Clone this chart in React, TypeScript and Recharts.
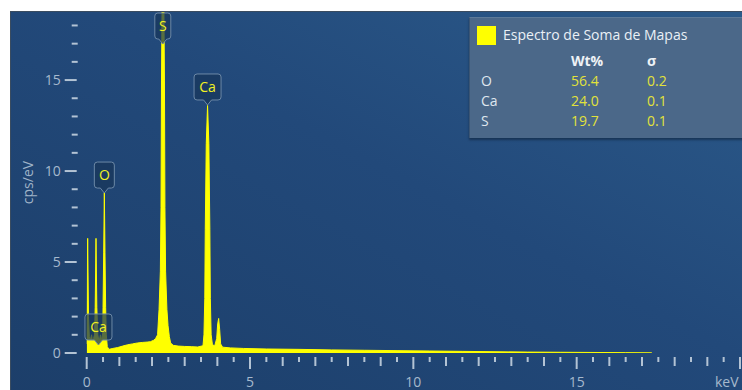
import { Area, ComposedChart, Legend, ReferenceDot, XAxis, YAxis } from "recharts";

// EDS spectrum
const energyKeV = [
  0.0, 0.005, 0.03, 0.055, 0.08, 0.11, 0.15, 0.18, 0.21, 0.24,
  0.26, 0.285, 0.31, 0.34, 0.38, 0.42, 0.46, 0.49, 0.5, 0.52,
  0.54, 0.56, 0.58, 0.6, 0.63, 0.68, 0.8, 0.95, 1.1, 1.25,
  1.4, 1.55, 1.7, 1.85, 1.95, 2.05, 2.11, 2.17, 2.215, 2.255,
  2.275, 2.29, 2.335, 2.38, 2.395, 2.415, 2.455, 2.49, 2.53, 2.57,
  2.65, 2.8, 3.0, 3.2, 3.4, 3.56, 3.59, 3.615, 3.63, 3.66,
  3.7, 3.74, 3.77, 3.785, 3.81, 3.85, 3.92, 3.98, 4.01, 4.04,
  4.07, 4.1, 4.16, 4.4, 4.8, 5.5, 6.5, 7.5, 8.5, 9.5,
  10.5, 11.5, 12.5, 13.5, 14.5, 15.5, 16.5, 17.3,
];
const countsCpsEv = [
  0.5, 2.0, 6.3, 2.0, 0.9, 0.7, 1.0, 0.6, 0.8, 1.0,
  2.5, 6.3, 2.5, 1.0, 0.6, 1.0, 0.7, 1.1, 2.5, 5.5,
  8.8, 5.5, 2.5, 1.0, 0.35, 0.2, 0.25, 0.3, 0.38, 0.45,
  0.5, 0.55, 0.58, 0.6, 0.62, 0.7, 0.8, 1.0, 2.4, 4.5,
  8.0, 15.0, 26.0, 15.0, 8.0, 4.5, 2.4, 1.5, 0.9, 0.55,
  0.42, 0.38, 0.36, 0.35, 0.33, 0.4, 1.0, 3.0, 6.8, 11.5,
  13.6, 11.5, 6.8, 3.0, 1.0, 0.45, 0.4, 0.8, 1.6, 1.9,
  1.3, 0.5, 0.32, 0.28, 0.25, 0.22, 0.2, 0.17, 0.15, 0.13,
  0.11, 0.09, 0.07, 0.05, 0.04, 0.03, 0.02, 0.01,
];

const xTicks = [
  0, 0.5, 1, 1.5, 2, 2.5, 3, 3.5, 4, 4.5, 5, 5.5, 6, 6.5, 7, 7.5, 8, 8.5, 9, 9.5, 10,
  10.5, 11, 11.5, 12, 12.5, 13, 13.5, 14, 14.5, 15, 15.5, 16, 16.5, 17, 17.5, 18, 18.5, 19, 19.5, 20,
];
const yTicks = [0, 1, 2, 3, 4, 5, 6, 7, 8, 9, 10, 11, 12, 13, 14, 15, 16, 17, 18];
const majorLabels = [0, 5, 10, 15];

const peakNames = ["Ca", "O", "S", "Ca"];
const peakEnergies = [0.36, 0.54, 2.33, 3.7];
const peakTips = [0.44, 8.79, 16.98, 13.63];

const elements = ["O", "Ca", "S"];
const wtPercent = ["56.4", "24.0", "19.7"];
const sigma = ["0.2", "0.1", "0.1"];

const data = energyKeV.map((keV, i) => ({ keV, cps: countsCpsEv[i] }));

const FONT = "'Open Sans', 'Noto Sans', sans-serif";
const AXIS_TEXT = "#a6b9cd";
const TICK = "#b3c3d4";
const YELLOW = "#ffff00";

function XTick(props: any) {
  const { x, y, payload } = props;
  const v = payload.value;
  const major = v % 5 === 0;
  const len = major ? 12 : v % 1 === 0 ? 9 : 5;
  return (
    <g>
      <line x1={x} x2={x} y1={y + 4} y2={y + 4 + len} stroke={TICK} strokeWidth={2} />
      {majorLabels.includes(v) && (
        <text x={x} y={y + 34} textAnchor="middle" fill={AXIS_TEXT} fontSize={14} fontFamily={FONT}>
          {v}
        </text>
      )}
      {v === 20 && (
        <text x={x - 25} y={y + 34} fill={AXIS_TEXT} fontSize={14} fontFamily={FONT}>
          keV
        </text>
      )}
    </g>
  );
}

function YTick(props: any) {
  const { x, y, payload } = props;
  const v = payload.value;
  const major = majorLabels.includes(v);
  return (
    <g>
      {major ? (
        <line x1={x - 22} x2={x - 10} y1={y} y2={y} stroke={TICK} strokeWidth={2} />
      ) : (
        <line x1={x - 15} x2={x - 9} y1={y} y2={y} stroke={TICK} strokeWidth={2} />
      )}
      {major && (
        <text x={x - 26} y={y + 5} textAnchor="end" fill={AXIS_TEXT} fontSize={14} fontFamily={FONT}>
          {v}
        </text>
      )}
    </g>
  );
}

function PeakTag(props: any) {
  const { cx, cy, name } = props;
  const w = name.length > 1 ? 27 : name === "S" ? 16 : 20;
  const x0 = cx - w / 2;
  const x1 = cx + w / 2;
  const y1 = cy - 5;
  const y0 = y1 - 26;
  const r = 3;
  const d = `M${x0 + r},${y0} H${x1 - r} Q${x1},${y0} ${x1},${y0 + r} V${y1 - r} Q${x1},${y1} ${x1 - r},${y1} H${cx + 4} L${cx},${cy} L${cx - 4},${y1} H${x0 + r} Q${x0},${y1} ${x0},${y1 - r} V${y0 + r} Q${x0},${y0} ${x0 + r},${y0} Z`;
  return (
    <g>
      <path d={d} fill="rgba(24,54,90,0.72)" stroke="#6c88a6" strokeWidth={1} />
      <text x={cx} y={y0 + 18} textAnchor="middle" fill="#f2f222" fontSize={14} fontFamily={FONT}>
        {name}
      </text>
    </g>
  );
}

function LegendPanel() {
  const cell = (left: number, top: number, color: string, text: string, bold = false) => (
    <div
      key={`${left}-${top}`}
      style={{ position: "absolute", left, top, color, fontWeight: bold ? 700 : 400, lineHeight: "18px" }}
    >
      {text}
    </div>
  );
  return (
    <div
      style={{
        position: "relative",
        width: 300,
        height: 120,
        background: "#4b6889",
        borderTop: "1px solid #5d7a99",
        borderLeft: "1px solid #3b5573",
        boxShadow: "0 2px 2px rgba(10,25,45,0.5)",
        fontFamily: FONT,
        fontSize: 14,
      }}
    >
      <div style={{ position: "absolute", left: 7, top: 8, width: 19, height: 19, background: YELLOW }} />
      {cell(33, 8, "#eaf0f6", "Espectro de Soma de Mapas")}
      {cell(101, 34, "#eef2f6", "Wt%", true)}
      {cell(177, 34, "#eef2f6", "σ", true)}
      {elements.map((el, i) => cell(11, 54 + i * 20, "#dfe6ee", el))}
      {wtPercent.map((w, i) => cell(101, 54 + i * 20, "#e2e23a", w))}
      {sigma.map((s, i) => cell(177, 54 + i * 20, "#e2e23a", s))}
    </div>
  );
}

export default function App() {
  return (
    <div style={{ position: "absolute", left: 0, top: 0, width: 742, height: 390, overflow: "hidden", background: "#fff" }}>
      <div
        style={{
          position: "absolute",
          left: 10,
          top: 11,
          width: 760,
          height: 400,
          background: "linear-gradient(to bottom left, #2c5b8b 0%, #22497a 45%, #1c3e69 100%)",
          borderTop: "1px solid #3a4c60",
          borderLeft: "1px solid #3a4c60",
        }}
      />
      <div style={{ position: "absolute", left: 0, top: 0 }}>
        <ComposedChart width={742} height={390} data={data} margin={{ top: 12, right: 2, bottom: 0, left: 0 }}>
          <XAxis
            dataKey="keV"
            type="number"
            domain={[0, 20]}
            ticks={xTicks}
            interval={0}
            allowDataOverflow
            axisLine={false}
            tickLine={false}
            tickSize={0}
            tickMargin={0}
            height={37}
            tick={<XTick />}
          />
          <YAxis
            type="number"
            domain={[0, 18.74]}
            ticks={yTicks}
            interval={0}
            allowDataOverflow
            axisLine={false}
            tickLine={false}
            tickSize={0}
            tickMargin={0}
            width={86.7}
            tick={<YTick />}
            label={{
              value: "cps/eV",
              angle: -90,
              position: "center",
              dx: -15,
              fill: "#9fb3c8",
              fontSize: 14,
              fontFamily: FONT,
            }}
          />
          <Legend
            layout="vertical"
            align="center"
            verticalAlign="middle"
            wrapperStyle={{ left: 469, top: 17, width: 300 }}
            content={<LegendPanel />}
          />
          <Area
            type="linear"
            dataKey="cps"
            name="Espectro de Soma de Mapas"
            stroke={YELLOW}
            strokeWidth={1}
            fill={YELLOW}
            fillOpacity={1}
            baseValue={0}
            isAnimationActive={false}
          />
          {peakNames.map((name, i) => (
            <ReferenceDot
              key={`${name}-${i}`}
              x={peakEnergies[i]}
              y={peakTips[i]}
              r={0}
              shape={(p: any) => <PeakTag {...p} name={name} />}
            />
          ))}
        </ComposedChart>
      </div>
    </div>
  );
}
